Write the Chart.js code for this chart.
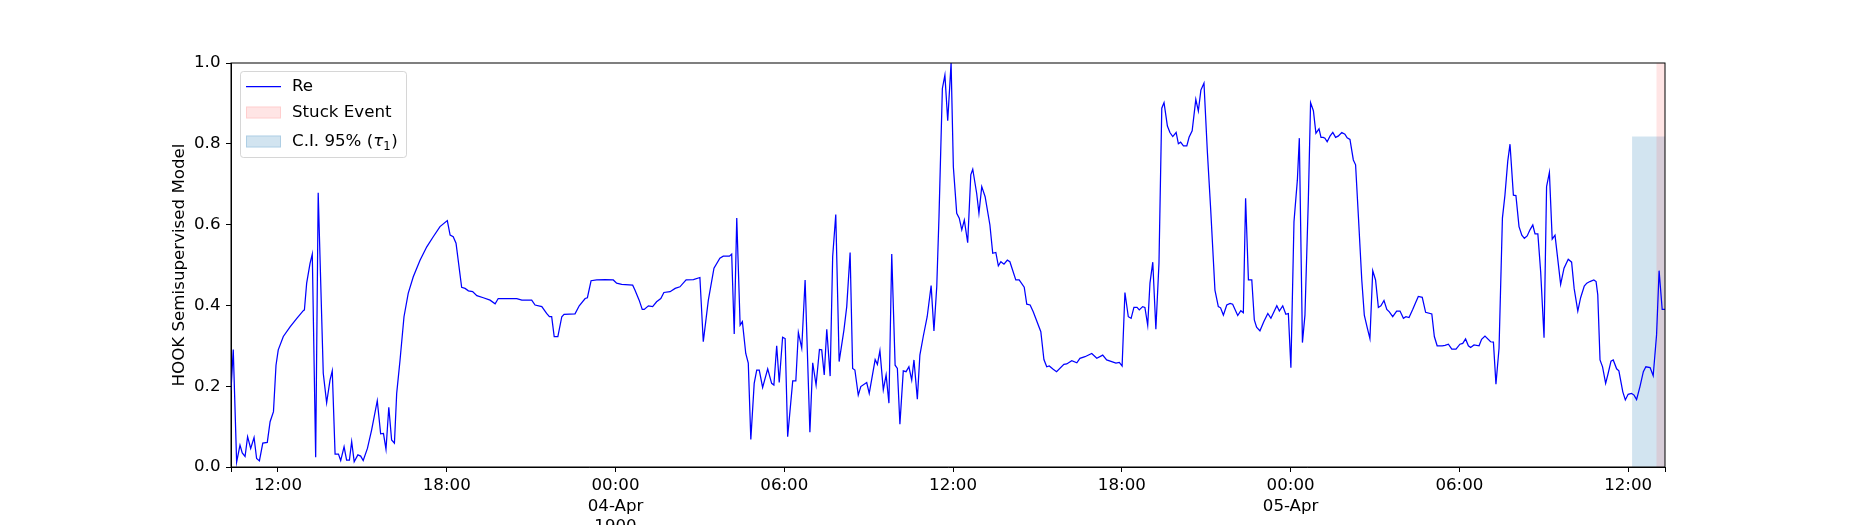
<!DOCTYPE html>
<html>
<head>
<meta charset="utf-8">
<script src="https://cdn.jsdelivr.net/npm/chart.js@4.4.1/dist/chart.umd.min.js"></script>
<style>
  html, body { margin: 0; padding: 0; background: #fff; }
  canvas { display: block; }
</style>
</head>
<body>
<canvas id="grafico" width="1850" height="525"></canvas>
<script>
/* =========================
   DADOS (horas desde 03-Apr 00:00)
========================= */
const horas = [
  10.33,10.41,10.53,10.65,10.73,10.83,10.92,11.03,11.15,11.24,
  11.34,11.46,11.62,11.72,11.84,11.93,12.01,12.19,12.43,12.67,
  12.90,12.94,13.02,13.14,13.22,13.34,13.43,13.61,13.73,13.85,
  13.93,14.03,14.15,14.23,14.35,14.44,14.54,14.62,14.71,14.84,
  14.94,15.03,15.18,15.33,15.53,15.65,15.75,15.84,15.94,16.04,
  16.14,16.22,16.34,16.48,16.63,16.81,17.05,17.29,17.52,17.76,
  18.02,18.12,18.23,18.33,18.53,18.65,18.77,18.92,19.07,19.30,
  19.54,19.72,19.83,20.49,20.67,21.02,21.14,21.38,21.55,21.65,
  21.73,21.82,21.95,22.09,22.17,22.56,22.71,22.92,23.00,23.13,
  23.33,23.63,23.92,24.04,24.22,24.61,24.69,24.84,24.95,25.02,
  25.17,25.32,25.46,25.61,25.72,25.94,26.12,26.29,26.51,26.77,
  27.00,27.12,27.30,27.50,27.71,27.83,28.05,28.13,28.22,28.31,
  28.43,28.51,28.63,28.72,28.81,28.93,29.02,29.11,29.23,29.41,
  29.55,29.63,29.73,29.82,29.94,30.03,30.12,30.30,30.41,30.50,
  30.62,30.74,30.91,31.01,31.13,31.25,31.33,31.42,31.51,31.63,
  31.72,31.83,31.95,32.12,32.22,32.34,32.43,32.51,32.63,32.72,
  32.93,33.02,33.23,33.31,33.40,33.52,33.62,33.72,33.82,33.94,
  34.02,34.11,34.23,34.33,34.43,34.53,34.61,34.73,34.82,34.94,
  35.08,35.22,35.32,35.42,35.50,35.62,35.71,35.81,35.93,36.01,
  36.13,36.22,36.31,36.40,36.52,36.63,36.70,36.84,36.92,37.02,
  37.14,37.31,37.41,37.52,37.61,37.70,37.81,37.93,38.02,38.23,
  38.35,38.53,38.62,38.74,38.85,39.12,39.23,39.33,39.42,39.56,
  39.68,39.94,40.04,40.22,40.40,40.51,40.69,40.93,41.11,41.32,
  41.46,41.64,41.79,41.91,42.01,42.11,42.23,42.33,42.43,42.54,
  42.62,42.74,42.82,42.92,43.00,43.10,43.21,43.32,43.42,43.50,
  43.62,43.71,43.81,43.93,44.01,44.09,44.19,44.31,44.39,44.50,
  44.63,44.72,44.81,44.92,45.04,45.16,45.31,45.43,45.51,45.61,
  45.73,45.85,45.94,46.12,46.23,46.32,46.40,46.50,46.62,46.71,
  46.79,46.91,47.05,47.19,47.30,47.51,47.60,47.72,47.83,47.92,
  48.01,48.12,48.24,48.31,48.42,48.51,48.63,48.71,48.81,48.90,
  49.01,49.08,49.16,49.22,49.30,49.40,49.50,49.60,49.69,49.82,
  49.93,50.01,50.11,50.23,50.31,50.41,50.53,50.62,50.73,50.82,
  50.92,51.02,51.12,51.21,51.32,51.42,51.51,51.63,51.77,51.89,
  52.01,52.10,52.21,52.34,52.45,52.54,52.68,52.80,53.02,53.11,
  53.21,53.39,53.49,53.61,53.73,53.88,54.02,54.12,54.22,54.32,
  54.40,54.52,54.70,54.79,54.91,55.11,55.21,55.30,55.41,55.53,
  55.62,55.72,55.80,55.92,56.01,56.12,56.22,56.31,56.41,56.51,
  56.61,56.69,56.79,56.89,57.01,57.10,57.20,57.30,57.40,57.48,
  57.60,57.72,57.87,57.99,58.08,58.21,58.31,58.44,58.53,58.64,
  58.78,58.86,58.92,59.00,59.09,59.20,59.29,59.39,59.47,59.59,
  59.67,59.81,59.90,60.00,60.12,60.21,60.30,60.42,60.54,60.63,
  60.78,60.89,61.01,61.10,61.21,61.31
];

const valoresRe = [
  0.190,0.291,0.012,0.054,0.035,0.026,0.075,0.046,0.073,0.021,
  0.015,0.059,0.061,0.112,0.137,0.252,0.290,0.323,0.347,0.368,
  0.387,0.389,0.455,0.504,0.527,0.024,0.679,0.232,0.159,0.215,
  0.238,0.032,0.032,0.016,0.050,0.017,0.017,0.063,0.013,0.030,
  0.027,0.016,0.046,0.092,0.164,0.082,0.083,0.044,0.148,0.067,
  0.059,0.182,0.265,0.372,0.430,0.471,0.512,0.545,0.570,0.595,
  0.610,0.574,0.570,0.554,0.445,0.442,0.436,0.434,0.424,0.419,
  0.413,0.404,0.417,0.417,0.413,0.413,0.401,0.397,0.380,0.372,
  0.372,0.323,0.323,0.372,0.378,0.379,0.399,0.417,0.419,0.461,
  0.463,0.464,0.463,0.455,0.452,0.450,0.438,0.413,0.390,0.390,
  0.399,0.397,0.409,0.417,0.432,0.434,0.442,0.446,0.463,0.464,
  0.469,0.310,0.413,0.492,0.517,0.522,0.522,0.527,0.329,0.616,
  0.351,0.360,0.281,0.257,0.068,0.207,0.240,0.240,0.197,0.243,
  0.207,0.203,0.300,0.209,0.321,0.318,0.075,0.213,0.213,0.333,
  0.294,0.463,0.086,0.258,0.203,0.291,0.290,0.228,0.341,0.225,
  0.521,0.625,0.261,0.339,0.397,0.531,0.244,0.240,0.178,0.199,
  0.209,0.182,0.266,0.254,0.288,0.191,0.228,0.158,0.527,0.252,
  0.244,0.106,0.238,0.236,0.248,0.215,0.265,0.168,0.277,0.323,
  0.372,0.449,0.337,0.446,0.620,0.937,0.970,0.857,1.000,0.743,
  0.628,0.616,0.587,0.611,0.555,0.723,0.737,0.677,0.628,0.694,
  0.669,0.599,0.529,0.531,0.498,0.508,0.502,0.512,0.508,0.463,
  0.463,0.445,0.403,0.401,0.384,0.335,0.266,0.248,0.250,0.242,
  0.236,0.254,0.255,0.263,0.258,0.269,0.273,0.281,0.269,0.277,
  0.265,0.261,0.257,0.259,0.250,0.432,0.372,0.368,0.395,0.395,
  0.389,0.397,0.395,0.351,0.455,0.507,0.341,0.504,0.888,0.902,
  0.844,0.828,0.818,0.828,0.800,0.804,0.795,0.795,0.816,0.832,
  0.910,0.881,0.933,0.950,0.781,0.636,0.438,0.397,0.394,0.376,
  0.401,0.405,0.403,0.375,0.387,0.382,0.665,0.463,0.463,0.364,
  0.346,0.337,0.360,0.380,0.368,0.399,0.386,0.399,0.378,0.380,
  0.246,0.607,0.710,0.814,0.308,0.376,0.661,0.902,0.882,0.826,
  0.837,0.816,0.816,0.814,0.805,0.819,0.828,0.816,0.819,0.828,
  0.824,0.815,0.811,0.760,0.748,0.620,0.463,0.376,0.343,0.318,
  0.486,0.463,0.395,0.399,0.412,0.390,0.384,0.372,0.386,0.386,
  0.368,0.372,0.370,0.390,0.408,0.422,0.420,0.383,0.379,0.323,
  0.300,0.300,0.301,0.304,0.292,0.292,0.304,0.306,0.317,0.300,
  0.296,0.302,0.300,0.316,0.324,0.310,0.309,0.205,0.294,0.616,
  0.673,0.757,0.799,0.673,0.672,0.595,0.574,0.566,0.572,0.587,
  0.599,0.577,0.577,0.483,0.320,0.694,0.729,0.564,0.574,0.525,
  0.452,0.492,0.514,0.507,0.442,0.386,0.419,0.448,0.455,0.459,
  0.463,0.459,0.426,0.265,0.248,0.207,0.232,0.262,0.265,0.243,
  0.238,0.186,0.166,0.180,0.182,0.178,0.167,0.199,0.236,0.248,
  0.246,0.226,0.327,0.486,0.390,0.390
];

const ticksHoras = [12, 18, 24, 30, 36, 42, 48, 54, 60];
const ticksRotulos = ["12:00", "18:00", ["00:00", "04-Apr", "1900"], "06:00", "12:00",
                      "18:00", ["00:00", "05-Apr"], "06:00", "12:00"];

const inicioEixo = 10.33;
const fimEixo = 61.31;
const stuckInicio = 61.0;   // Stuck Event
const ciInicio = 60.14;     // C.I. 95% (tau_1)
const ciTopo = 0.818;

const TAM_FONTE = 16.67;

/* =========================
   PLUGINS
========================= */
const moldura = {
  id: "moldura",
  afterDatasetsDraw(chart) {
    const { ctx, chartArea: a } = chart;
    ctx.save();
    ctx.strokeStyle = "#000";
    ctx.lineWidth = 1;
    ctx.strokeRect(a.left, a.top, a.right - a.left, a.bottom - a.top);
    ctx.restore();
  }
};

const legendaInterna = {
  id: "legendaInterna",
  afterDraw(chart) {
    const ctx = chart.ctx;
    const ds = chart.data.datasets;
    const fonte = TAM_FONTE + "px 'DejaVu Sans'";
    const hx = 246, hw = 35, tx = 292;
    const linhas = [86.5, 112.5, 141.5];

    ctx.save();
    ctx.beginPath();
    ctx.roundRect(240.5, 71.5, 166, 86, 3);
    ctx.fillStyle = "rgba(255,255,255,0.8)";
    ctx.fill();
    ctx.strokeStyle = "rgba(204,204,204,0.8)";
    ctx.lineWidth = 1;
    ctx.stroke();

    // Re
    ctx.strokeStyle = ds[0].borderColor;
    ctx.lineWidth = ds[0].borderWidth;
    ctx.beginPath();
    ctx.moveTo(hx, linhas[0]);
    ctx.lineTo(hx + hw, linhas[0]);
    ctx.stroke();

    // faixas
    [1, 2].forEach(i => {
      ctx.fillStyle = ds[i].backgroundColor;
      ctx.fillRect(hx, linhas[i] - 6, hw, 12);
      ctx.strokeStyle = ds[i].backgroundColor;
      ctx.lineWidth = 1;
      ctx.strokeRect(hx + 0.5, linhas[i] - 5.5, hw - 1, 11);
    });

    ctx.fillStyle = "#000";
    ctx.textBaseline = "middle";
    ctx.font = fonte;
    ctx.fillText(ds[0].label, tx, linhas[0]);
    ctx.fillText(ds[1].label, tx, linhas[1]);

    const t = "C.I. 95% (";
    let px = tx;
    ctx.fillText(t, px, linhas[2]);
    px += ctx.measureText(t).width;
    ctx.font = "italic " + fonte;
    ctx.fillText("τ", px, linhas[2]);
    px += ctx.measureText("τ").width;
    ctx.font = (TAM_FONTE * 0.7).toFixed(2) + "px 'DejaVu Sans'";
    ctx.fillText("1", px, linhas[2] + 5.5);
    px += ctx.measureText("1").width + 0.5;
    ctx.font = fonte;
    ctx.fillText(")", px, linhas[2]);
    ctx.restore();
  }
};

/* =========================
   GRÁFICO
========================= */
Chart.defaults.font.family = "'DejaVu Sans', sans-serif";
Chart.defaults.font.size = TAM_FONTE;
Chart.defaults.color = "#000";

const pontosRe = horas.map((h, i) => ({ x: h, y: valoresRe[i] }));

const grafico = new Chart(document.getElementById("grafico"), {
  type: "line",
  data: {
    datasets: [
      {
        label: "Re",
        data: pontosRe,
        borderColor: "#0000ff",
        borderWidth: 1.25,
        pointRadius: 0,
        tension: 0,
        fill: false
      },
      {
        label: "Stuck Event",
        data: [{ x: stuckInicio, y: 1 }, { x: fimEixo, y: 1 }],
        backgroundColor: "rgba(255,0,0,0.1)",
        borderWidth: 0,
        pointRadius: 0,
        fill: "origin"
      },
      {
        label: "C.I. 95% (τ1)",
        data: [{ x: ciInicio, y: ciTopo }, { x: fimEixo, y: ciTopo }],
        backgroundColor: "rgba(31,119,180,0.2)",
        borderWidth: 0,
        pointRadius: 0,
        fill: "origin"
      }
    ]
  },
  options: {
    responsive: false,
    animation: false,
    devicePixelRatio: 1,
    events: [],
    layout: { padding: { left: 0, top: 63, right: 185, bottom: 0 } },
    plugins: {
      legend: { display: false },
      tooltip: { enabled: false }
    },
    scales: {
      x: {
        type: "linear",
        min: inicioEixo,
        max: fimEixo,
        afterBuildTicks: eixo => {
          eixo.ticks = [inicioEixo, ...ticksHoras, fimEixo].map(v => ({ value: v }));
        },
        afterFit: eixo => { eixo.height = 58; },
        grid: { drawOnChartArea: false, tickLength: 5, color: "#000" },
        border: { color: "#000" },
        ticks: {
          autoSkip: false,
          maxRotation: 0,
          padding: 3.5,
          font: { size: TAM_FONTE, lineHeight: 1.23 },
          callback: v => {
            const i = ticksHoras.indexOf(v);
            return i >= 0 ? ticksRotulos[i] : "";
          }
        }
      },
      y: {
        min: 0,
        max: 1,
        afterFit: eixo => { eixo.width = 231; },
        grid: { drawOnChartArea: false, tickLength: 5, color: "#000" },
        border: { color: "#000" },
        ticks: { stepSize: 0.2, padding: 5.5, callback: v => v.toFixed(1) },
        title: {
          display: true,
          text: "HOOK Semisupervised Model",
          padding: { top: 170, bottom: 0 },
          font: { size: TAM_FONTE }
        }
      }
    }
  },
  plugins: [moldura, legendaInterna]
});
</script>
</body>
</html>
